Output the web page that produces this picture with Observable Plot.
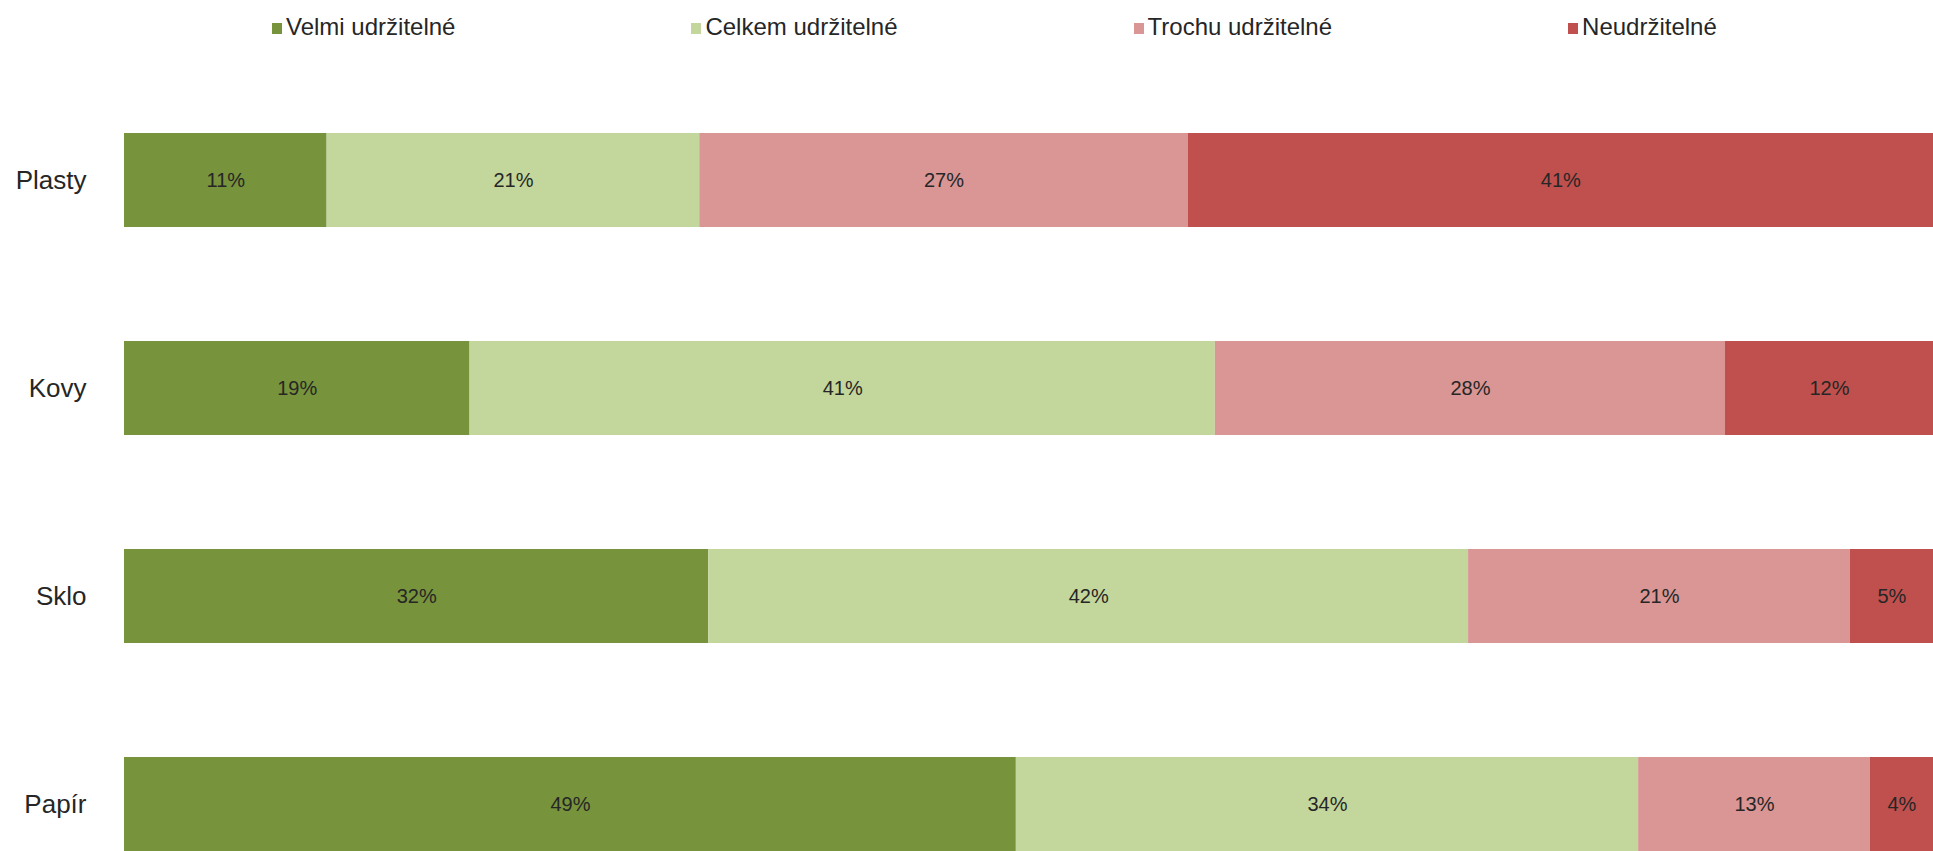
<!DOCTYPE html>
<html>
<head>
<meta charset="utf-8">
<script src="https://cdn.jsdelivr.net/npm/d3@7"></script>
<script src="https://cdn.jsdelivr.net/npm/@observablehq/plot@0.6"></script>
<style>
  html, body { margin: 0; padding: 0; background: #fff; overflow: hidden; }
  body { width: 1933px; height: 851px; font-family: "Liberation Sans", Arial, Helvetica, sans-serif; }
  #legend { height: 45px; box-sizing: border-box; padding-top: 8px; padding-left: 272px; display: flex; gap: 236px; }
  .item { display: flex; align-items: center; font-size: 24px; line-height: 26px; color: #262626; white-space: nowrap; }
  .sw { width: 10px; height: 11px; margin-right: 4px; margin-top: 4px; flex: none; }
  #chart svg { display: block; }
</style>
</head>
<body>
<div id="legend"></div>
<div id="chart"></div>
<script>
const categories = ["Plasty", "Kovy", "Sklo", "Papír"];
const series = ["Velmi udržitelné", "Celkem udržitelné", "Trochu udržitelné", "Neudržitelné"];
const colors = ["#77933C", "#C3D69B", "#D99694", "#C0504D"];
const velmi  = [11.2, 19.1, 32.3, 49.3];
const celkem = [20.6, 41.2, 42.0, 34.4];
const trochu = [27.0, 28.2, 21.1, 12.8];
const neudr  = [41.2, 11.5, 4.6, 3.5];

const seriesValues = [velmi, celkem, trochu, neudr];
const data = [];
series.forEach((s, si) => {
  categories.forEach((c, ci) => {
    data.push({cat: c, series: s, value: seriesValues[si][ci]});
  });
});

// legend
const legend = document.getElementById("legend");
series.forEach((s, i) => {
  const it = document.createElement("div");
  it.className = "item";
  const sw = document.createElement("span");
  sw.className = "sw";
  sw.style.background = colors[i];
  it.appendChild(sw);
  it.appendChild(document.createTextNode(s));
  legend.appendChild(it);
});

const chart = Plot.plot({
  width: 1933,
  height: 806,
  marginLeft: 124,
  marginRight: 0,
  marginTop: 0,
  marginBottom: 0,
  style: {fontFamily: '"Liberation Sans", Arial, Helvetica, sans-serif', color: "#262626", background: "#fff"},
  x: {domain: [0, 100], axis: null},
  y: {domain: categories, range: [31, 863], paddingInner: 0.548, paddingOuter: 0.274, label: null},
  color: {domain: series, range: colors},
  marks: [
    Plot.barX(data, Plot.stackX({x: "value", y: "cat", z: "series", fill: "series", order: series})),
    Plot.text(data, Plot.stackX({x: "value", y: "cat", z: "series", order: series,
      text: d => Math.round(d.value) + "%", fontSize: 20, fill: "#262626"})),
    Plot.axisY({tickSize: 0, tickPadding: 38, fontSize: 26, label: null})
  ]
});
document.getElementById("chart").appendChild(chart);
</script>
</body>
</html>
